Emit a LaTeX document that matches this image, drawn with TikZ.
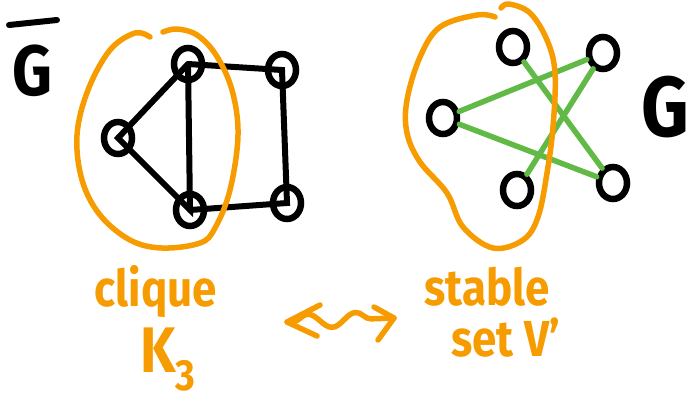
\documentclass[tikz,border=0pt]{standalone}
\usepackage{fontspec}
\setmainfont{Fira Sans}
\usetikzlibrary{shapes.geometric,decorations.pathmorphing}
\definecolor{hlorange}{RGB}{247,156,0}
\definecolor{hlgreen}{RGB}{98,186,70}
\tikzset{
  vtx/.style={ellipse,draw=black,line width=6.5pt,minimum width=28pt,minimum height=32pt,inner sep=0pt},
  bedge/.style={draw=black,line width=6pt,line cap=round},
  gedge/.style={draw=hlgreen,line width=5.5pt,line cap=round},
  loop/.style={draw=hlorange,line width=5.5pt,line cap=round,line join=round},
  olabel/.style={text=hlorange,font=\bfseries\fontsize{44}{44}\selectfont,inner sep=0pt,align=center},
  glabel/.style={text=black,inner sep=0pt}
}
\newcommand{\tallish}[1]{\scalebox{1}[1.15]{#1}}
\begin{document}
\begin{tikzpicture}[x=1pt,y=-1pt]
\useasboundingbox (0,0) rectangle (690,410);

% complement graph: triangle plus square
\node[vtx] (a) at (188,64) {};
\node[vtx] (b) at (118,138) {};
\node[vtx] (c) at (190,210) {};
\node[vtx] (d) at (282,70) {};
\node[vtx] (e) at (287,203) {};
\draw[bedge] (a.center) -- (b.center) -- (c.center) -- (a.center);
\draw[bedge] (a.center) -- (d.center) -- (e.center) -- (c.center);

% label G with bar
\node[glabel,font=\fontsize{62}{62}\selectfont\bfseries] (gbar) at (32,71) {\tallish{G}};
\coordinate (barl) at (9,25);
\coordinate (barr) at (57,20);
\draw[bedge] (barl) -- (barr);

% loop around the clique
\draw[loop] plot[smooth,tension=0.6] coordinates {
  (150,37) (135,33) (110,50) (88,90) (77,135) (82,180) (100,215) (130,240)
  (162,248) (200,243) (215,228) (230,190) (238,135) (232,90) (216,55)
  (197,35) (177,29) (163,32)};

% graph G with the stable set
\node[vtx] (p) at (513,47) {};
\node[vtx] (q) at (603,53) {};
\node[vtx] (r) at (443,118) {};
\node[vtx] (s) at (517,190) {};
\node[vtx] (t) at (613,183) {};
\draw[gedge] (p) -- (t);
\draw[gedge] (q) -- (s);
\draw[gedge] (r) -- (q);
\draw[gedge] (r) -- (t);

\node[glabel,font=\fontsize{74}{74}\selectfont\bfseries] (g) at (665,107) {\tallish{G}};

% loop around the stable set
\draw[loop] plot[smooth,tension=0.6] coordinates {
  (495,17) (477,15) (440,27) (420,57) (407,100) (407,133) (420,162)
  (447,193) (463,227) (493,248) (523,240) (538,217) (547,173) (553,127)
  (555,73) (547,40) (530,13) (509,4) (501,8)};

% orange annotations
\node[olabel] (clique) at (156,292) {\tallish{clique}};
\node[olabel,font=\bfseries\fontsize{56}{56}\selectfont] (k3) at (168,360)
  {\tallish{K\raisebox{-0.28em}{\fontsize{38}{38}\selectfont 3}}};
\node[olabel] (stable) at (487,287) {\tallish{stable}};
\node[olabel] (setv) at (506,338) {\tallish{set V'}};

% wavy double arrow
\coordinate (wl) at (287,322);
\coordinate (wr) at (394,318);
\draw[loop,decorate,decoration={snake,amplitude=7pt,segment length=48pt,pre length=6pt,post length=6pt}]
  (wl) -- (wr);
\draw[loop] ([shift={(33,-17)}]wl) -- (wl) -- ([shift={(30,14)}]wl);
\draw[loop] ([shift={(-20,-11)}]wr) -- (wr) -- ([shift={(-16,22)}]wr);
\end{tikzpicture}
\end{document}
